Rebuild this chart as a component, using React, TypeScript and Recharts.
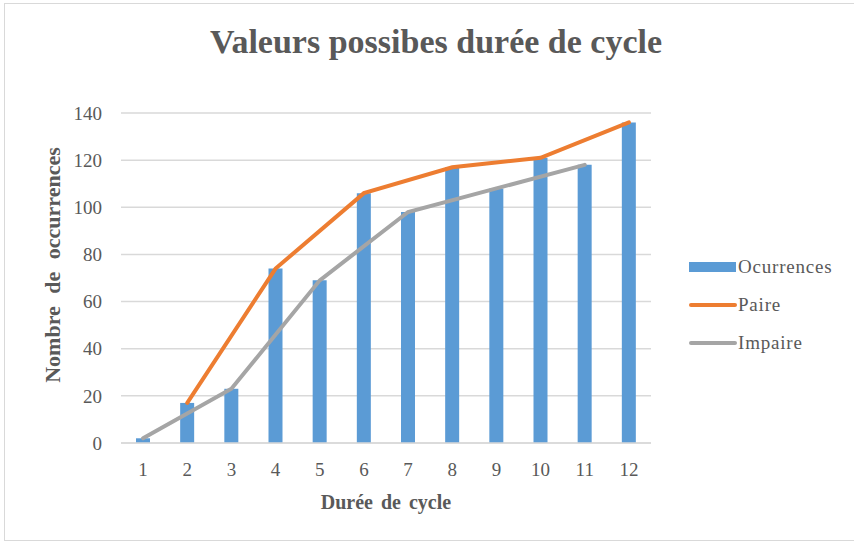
import { Bar, CartesianGrid, ComposedChart, Label, Line, XAxis, YAxis } from "recharts";

const durees = [1, 2, 3, 4, 5, 6, 7, 8, 9, 10, 11, 12];
const occurrences = [2, 17, 23, 74, 69, 106, 98, 117, 108, 121, 118, 136];
const paire = [null, 17, null, 74, null, 106, null, 117, null, 121, null, 136];
const impaire = [2, null, 23, null, 69, null, 98, null, 108, null, 118, null];
const yTicks = [0, 20, 40, 60, 80, 100, 120, 140];

const data = durees.map((d, i) => ({
  duree: d,
  occurrences: occurrences[i],
  paire: paire[i],
  impaire: impaire[i],
}));

const FONT = "'Liberation Serif', 'Times New Roman', serif";
const TEXT = "#595959";
const BLUE = "#5B9BD5";
const ORANGE = "#ED7D31";
const GRAY = "#A5A5A5";

const legendItems = [
  { label: "Ocurrences", color: BLUE, kind: "bar" },
  { label: "Paire", color: ORANGE, kind: "line" },
  { label: "Impaire", color: GRAY, kind: "line" },
];

function ChartLegend() {
  return (
    <div
      style={{
        position: "absolute",
        left: 689,
        top: 248,
        fontFamily: FONT,
        color: TEXT,
        fontSize: 19,
        letterSpacing: 0.8,
      }}
    >
      {legendItems.map((it) => (
        <div key={it.label} style={{ display: "flex", alignItems: "center", height: 38 }}>
          <svg width={49} height={12} style={{ display: "block" }}>
            {it.kind === "bar" ? (
              <rect x={0} y={1} width={47} height={10} fill={it.color} />
            ) : (
              <line x1={2} y1={6} x2={46} y2={6} stroke={it.color} strokeWidth={4} strokeLinecap="round" />
            )}
          </svg>
          <span>{it.label}</span>
        </div>
      ))}
    </div>
  );
}

export default function App() {
  return (
    <div style={{ position: "absolute", left: 0, top: 0, width: 854, height: 542, background: "#fff" }}>
      <div
        style={{
          position: "absolute",
          left: 4,
          top: 3,
          width: 860,
          height: 536,
          border: "1px solid #d9d9d9",
        }}
      />
      <div
        style={{
          position: "absolute",
          left: 0,
          top: 22,
          width: 872,
          textAlign: "center",
          fontFamily: FONT,
          fontWeight: "bold",
          fontSize: 34,
          lineHeight: "40px",
          color: TEXT,
        }}
      >
        Valeurs possibes durée de cycle
      </div>
      <ComposedChart
        width={854}
        height={542}
        data={data}
        margin={{ top: 113, right: 203, bottom: 69, left: 0 }}
        style={{ position: "absolute", left: 0, top: 0 }}
      >
        <CartesianGrid vertical={false} stroke="#d9d9d9" strokeWidth={1.5} />
        <XAxis
          dataKey="duree"
          height={30}
          axisLine={{ stroke: "#d9d9d9", strokeWidth: 1.5 }}
          tickLine={false}
          tickMargin={14}
          tick={{ fill: TEXT, fontSize: 19, fontFamily: FONT }}
        >
          <Label
            content={() => (
              <text
                x={386}
                y={509}
                textAnchor="middle"
                fill={TEXT}
                fontFamily={FONT}
                fontWeight="bold"
                fontSize={20}
                wordSpacing={3}
              >
                Durée de cycle
              </text>
            )}
          />
        </XAxis>
        <YAxis
          width={121}
          domain={[0, 140]}
          ticks={yTicks}
          axisLine={false}
          tickLine={false}
          tickMargin={13}
          tick={{ fill: TEXT, fontSize: 19, fontFamily: FONT }}
        >
          <Label
            content={() => (
              <text
                x={60}
                y={265}
                transform="rotate(-90, 60, 265)"
                textAnchor="middle"
                fill={TEXT}
                fontFamily={FONT}
                fontWeight="bold"
                fontSize={22}
                wordSpacing={7}
              >
                Nombre de occurrences
              </text>
            )}
          />
        </YAxis>
        <Bar dataKey="occurrences" name="Ocurrences" fill={BLUE} barSize={14} isAnimationActive={false} />
        <Line
          dataKey="paire"
          name="Paire"
          stroke={ORANGE}
          strokeWidth={4}
          dot={false}
          connectNulls
          strokeLinecap="round"
          isAnimationActive={false}
        />
        <Line
          dataKey="impaire"
          name="Impaire"
          stroke={GRAY}
          strokeWidth={4}
          dot={false}
          connectNulls
          strokeLinecap="round"
          isAnimationActive={false}
        />
      </ComposedChart>
      <ChartLegend />
    </div>
  );
}
